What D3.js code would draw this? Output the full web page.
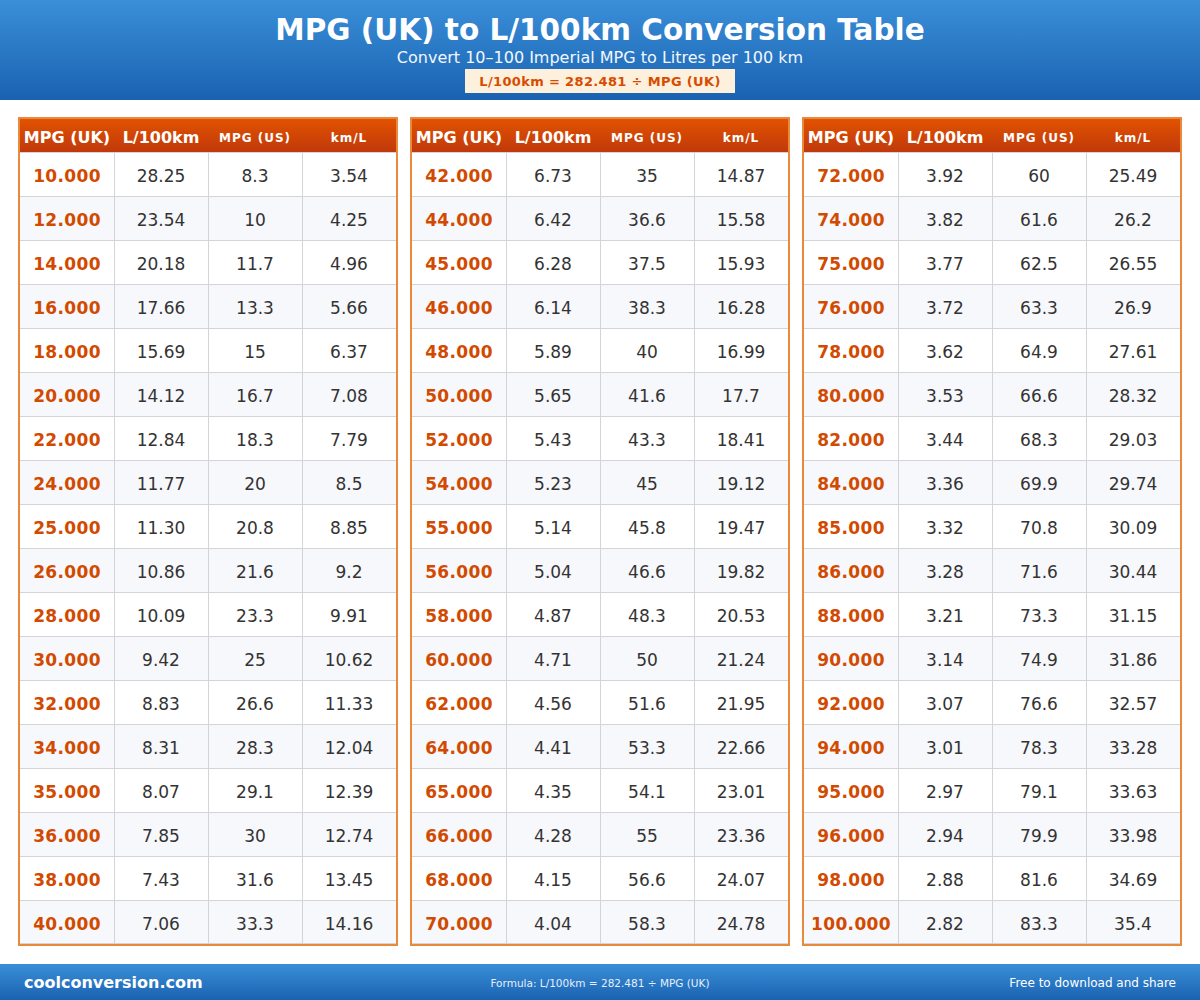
<!DOCTYPE html>
<html>
<head>
<meta charset="utf-8">
<script src="https://cdn.jsdelivr.net/npm/d3@7"></script>
<style>
  body { margin: 0; background: #fff; }
  svg { display: block; font-family: "DejaVu Sans", sans-serif; }
</style>
</head>
<body>
<svg id="chart" width="1200" height="1000"></svg>
<script>
// table values
const mpgUK = ["10.000","12.000","14.000","16.000","18.000","20.000","22.000","24.000","25.000","26.000","28.000","30.000","32.000","34.000","35.000","36.000","38.000","40.000",
  "42.000","44.000","45.000","46.000","48.000","50.000","52.000","54.000","55.000","56.000","58.000","60.000","62.000","64.000","65.000","66.000","68.000","70.000",
  "72.000","74.000","75.000","76.000","78.000","80.000","82.000","84.000","85.000","86.000","88.000","90.000","92.000","94.000","95.000","96.000","98.000","100.000"];
const l100km = ["28.25","23.54","20.18","17.66","15.69","14.12","12.84","11.77","11.30","10.86","10.09","9.42","8.83","8.31","8.07","7.85","7.43","7.06",
  "6.73","6.42","6.28","6.14","5.89","5.65","5.43","5.23","5.14","5.04","4.87","4.71","4.56","4.41","4.35","4.28","4.15","4.04",
  "3.92","3.82","3.77","3.72","3.62","3.53","3.44","3.36","3.32","3.28","3.21","3.14","3.07","3.01","2.97","2.94","2.88","2.82"];
const mpgUS = ["8.3","10","11.7","13.3","15","16.7","18.3","20","20.8","21.6","23.3","25","26.6","28.3","29.1","30","31.6","33.3",
  "35","36.6","37.5","38.3","40","41.6","43.3","45","45.8","46.6","48.3","50","51.6","53.3","54.1","55","56.6","58.3",
  "60","61.6","62.5","63.3","64.9","66.6","68.3","69.9","70.8","71.6","73.3","74.9","76.6","78.3","79.1","79.9","81.6","83.3"];
const kmPerL = ["3.54","4.25","4.96","5.66","6.37","7.08","7.79","8.5","8.85","9.2","9.91","10.62","11.33","12.04","12.39","12.74","13.45","14.16",
  "14.87","15.58","15.93","16.28","16.99","17.7","18.41","19.12","19.47","19.82","20.53","21.24","21.95","22.66","23.01","23.36","24.07","24.78",
  "25.49","26.2","26.55","26.9","27.61","28.32","29.03","29.74","30.09","30.44","31.15","31.86","32.57","33.28","33.63","33.98","34.69","35.4"];
const columns = ["MPG (UK)", "L/100km", "MPG (US)", "km/L"];
const panels = [0, 1, 2];
const rowsPerPanel = 18;

const svg = d3.select("#chart");
const W = 1200, H = 1000;

const defs = svg.append("defs");
function grad(id, c1, c2) {
  const g = defs.append("linearGradient").attr("id", id)
    .attr("x1", 0).attr("y1", 0).attr("x2", 0).attr("y2", 1);
  g.append("stop").attr("offset", "0%").attr("stop-color", c1);
  g.append("stop").attr("offset", "100%").attr("stop-color", c2);
}
grad("blueGrad", "#3a8fd9", "#1a62b1");
grad("orangeGrad", "#e25200", "#c0390b");

// Header band
svg.append("rect").attr("x", 0).attr("y", 0).attr("width", W).attr("height", 100)
  .attr("fill", "url(#blueGrad)");
svg.append("text").attr("x", W / 2).attr("y", 40).attr("text-anchor", "middle")
  .attr("fill", "#fff").attr("font-size", 29.5).attr("font-weight", "bold")
  .text("MPG (UK) to L/100km Conversion Table");
svg.append("text").attr("x", W / 2).attr("y", 63).attr("text-anchor", "middle")
  .attr("fill", "#f2f7fd").attr("font-size", 16)
  .text("Convert 10–100 Imperial MPG to Litres per 100 km");
svg.append("rect").attr("x", 465).attr("y", 69).attr("width", 270).attr("height", 24)
  .attr("fill", "#fdf0dd");
svg.append("text").attr("x", W / 2).attr("y", 86).attr("text-anchor", "middle")
  .attr("fill", "#d84c00").attr("font-size", 13).attr("font-weight", "bold")
  .attr("letter-spacing", 0.35)
  .text("L/100km = 282.481 ÷ MPG (UK)");

// Panels
const px = d3.scaleBand().domain(panels).range([18, 18 + 3 * 392]);
const colX = d3.scaleBand().domain(columns).range([0, 376]);
const rowY = d3.scaleBand().domain(d3.range(rowsPerPanel)).range([34, 34 + rowsPerPanel * 44]);

panels.forEach(p => {
  const g = svg.append("g").attr("transform", `translate(${px(p) + 2},118)`);
  const rows = d3.range(rowsPerPanel).map(i => {
    const k = p * rowsPerPanel + i;
    return [mpgUK[k], l100km[k], mpgUS[k], kmPerL[k]];
  });

  // header
  g.append("rect").attr("x", 0).attr("y", 1).attr("width", 376).attr("height", 33)
    .attr("fill", "url(#orangeGrad)");
  g.selectAll("text.hd").data(columns).enter().append("text")
    .attr("class", "hd")
    .attr("x", d => colX(d) + colX.bandwidth() / 2)
    .attr("y", (d, i) => i < 2 ? 24.5 : 24)
    .attr("text-anchor", "middle")
    .attr("fill", "#fff").attr("font-weight", "bold")
    .attr("font-size", (d, i) => i < 2 ? 16 : 12)
    .attr("letter-spacing", (d, i) => i < 2 ? 0 : 1)
    .text(d => d);

  // row backgrounds
  g.selectAll("rect.row").data(rows).enter().append("rect")
    .attr("class", "row")
    .attr("x", 0).attr("y", (d, i) => rowY(i))
    .attr("width", 376).attr("height", rowY.bandwidth())
    .attr("fill", (d, i) => i % 2 ? "#f7f8fc" : "#ffffff");

  // grid lines
  g.selectAll("line.h").data(d3.range(1, rowsPerPanel)).enter().append("line")
    .attr("x1", 0).attr("x2", 376)
    .attr("y1", i => rowY(i) + 0.5).attr("y2", i => rowY(i) + 0.5)
    .attr("stroke", "#d4d4d8");
  g.selectAll("line.v").data(columns.slice(1)).enter().append("line")
    .attr("y1", 34).attr("y2", 34 + rowsPerPanel * 44)
    .attr("x1", d => colX(d) + 0.5).attr("x2", d => colX(d) + 0.5)
    .attr("stroke", "#d4d4d8");
  g.append("line").attr("x1", 0).attr("x2", 376).attr("y1", 34.5).attr("y2", 34.5)
    .attr("stroke", "#d4d4d8");
  g.append("line").attr("x1", 0).attr("x2", 376)
    .attr("y1", 34 + rowsPerPanel * 44 - 0.5).attr("y2", 34 + rowsPerPanel * 44 - 0.5)
    .attr("stroke", "#d4d4d8");

  // cell text
  rows.forEach((r, i) => {
    g.selectAll(null).data(r).enter().append("text")
      .attr("x", (d, j) => colX(columns[j]) + colX.bandwidth() / 2)
      .attr("y", rowY(i) + rowY.bandwidth() / 2 + 7.5)
      .attr("text-anchor", "middle")
      .attr("font-size", 17)
      .attr("font-weight", (d, j) => j === 0 ? "bold" : "normal")
      .attr("fill", (d, j) => j === 0 ? "#d24a00" : "#333")
      .attr("letter-spacing", (d, j) => j === 0 ? 0.35 : 0)
      .text(d => d);
  });

  // panel border
  g.append("rect").attr("x", -1).attr("y", 0).attr("width", 378).attr("height", 34 + rowsPerPanel * 44 + 1)
    .attr("fill", "none").attr("stroke", "#e8893b").attr("stroke-width", 2);
});

// footer
svg.append("rect").attr("x", 0).attr("y", 964).attr("width", W).attr("height", 36)
  .attr("fill", "url(#blueGrad)");
svg.append("text").attr("x", 24).attr("y", 988).attr("fill", "#fff")
  .attr("font-size", 16).attr("font-weight", "bold").text("coolconversion.com");
svg.append("text").attr("x", W / 2).attr("y", 987).attr("text-anchor", "middle")
  .attr("fill", "#e6effa").attr("font-size", 10.5).text("Formula: L/100km = 282.481 ÷ MPG (UK)");
svg.append("text").attr("x", 1176).attr("y", 987).attr("text-anchor", "end")
  .attr("fill", "#fff").attr("font-size", 12).text("Free to download and share");
</script>
</body>
</html>
